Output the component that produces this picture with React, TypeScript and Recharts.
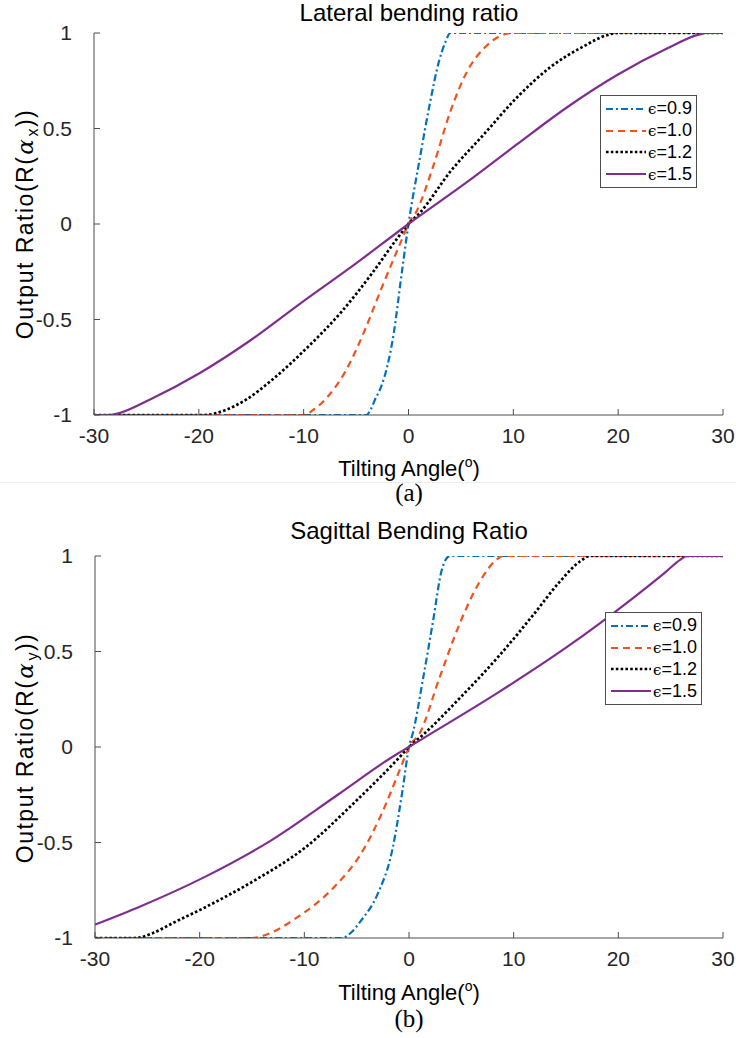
import React from "react";
import { LineChart, Line, XAxis, YAxis, Legend } from "recharts";

const xTicks = [-30, -20, -10, 0, 10, 20, 30];
const yTicks = [-1, -0.5, 0, 0.5, 1];
const epsLabels = ["0.9", "1.0", "1.2", "1.5"];

// (a) lateral bending
const lat09X = [-30, -4.0, -3.6, -3.2, -2.6, -2.0, -1.4, -0.7, 0, 1.1, 2.0, 2.9, 3.5, 4.0, 30];
const lat09Y = [-1, -1, -0.97, -0.92, -0.85, -0.74, -0.57, -0.28, 0, 0.35, 0.62, 0.85, 0.95, 1, 1];
const lat10X = [-30, -10, -9, -7.8, -6, -4.2, -2.6, -0.7, 0, 0.8, 2.4, 4.0, 5.6, 7.2, 8.6, 10, 30];
const lat10Y = [-1, -1, -0.97, -0.91, -0.77, -0.56, -0.34, -0.09, 0, 0.07, 0.31, 0.59, 0.8, 0.92, 0.98, 1, 1];
const lat12X = [-30, -19.5, -17.5, -15.5, -13.1, -9.9, -6.4, -3.5, -1, 0, 1.1, 4, 7.2, 10.3, 13.5, 16.7, 19, 20, 30];
const lat12Y = [-1, -1, -0.975, -0.92, -0.82, -0.66, -0.46, -0.26, -0.07, 0, 0.06, 0.275, 0.47, 0.66, 0.82, 0.93, 0.99, 1, 1];
const lat15X = [-30, -28.5, -27.6, -24.7, -19.9, -15.1, -10.3, -5.1, 0, 5.6, 10.3, 15.1, 19.9, 24.7, 27.6, 28.5, 30];
const lat15Y = [-1, -1, -0.99, -0.92, -0.78, -0.61, -0.415, -0.21, 0, 0.22, 0.415, 0.61, 0.78, 0.92, 0.99, 1, 1];

// (b) sagittal bending
const sag09X = [-30, -6.4, -5.5, -4.6, -3.0, -1.6, -0.6, 0, 0.4, 1.35, 2.3, 3.1, 3.5, 3.9, 30];
const sag09Y = [-1, -1, -0.97, -0.91, -0.77, -0.54, -0.22, 0, 0.08, 0.36, 0.66, 0.92, 0.98, 1, 1];
const sag10X = [-30, -15, -13.5, -10.9, -7.1, -4.6, -2.7, -0.45, 0, 1.0, 2.9, 4.8, 6.75, 8.35, 9, 30];
const sag10Y = [-1, -1, -0.98, -0.9, -0.73, -0.56, -0.36, -0.06, 0, 0.07, 0.36, 0.64, 0.865, 0.98, 1, 1];
const sag12X = [-30, -26.2, -24.5, -22.5, -19.5, -14.8, -10, -5.2, -1.1, 0, 1.35, 4.85, 8.65, 11.85, 14.4, 16.3, 17.3, 30];
const sag12Y = [-1, -1, -0.975, -0.92, -0.84, -0.7, -0.53, -0.29, -0.065, 0, 0.064, 0.256, 0.48, 0.69, 0.865, 0.97, 1, 1];
const sag15X = [-30, -25.9, -19.5, -13.2, -6.8, -1.1, 0, 1.35, 8.65, 15, 21.4, 24.6, 25.9, 26.6, 30];
const sag15Y = [-0.93, -0.84, -0.68, -0.49, -0.25, -0.035, 0, 0.045, 0.29, 0.52, 0.78, 0.92, 0.98, 1, 1];

const styles = [
  { color: "#0072BD", dash: "7 3 2 3", width: 2.2 },
  { color: "#F2521D", dash: "7 5", width: 2.2 },
  { color: "#000000", dash: "2.6 2.2", width: 2.7 },
  { color: "#7E2F8E", dash: undefined, width: 2.2 },
];

const toPts = (xs: number[], ys: number[]) => xs.map((x, i) => ({ x, y: ys[i] }));

const lateral = [toPts(lat09X, lat09Y), toPts(lat10X, lat10Y), toPts(lat12X, lat12Y), toPts(lat15X, lat15Y)];
const sagittal = [toPts(sag09X, sag09Y), toPts(sag10X, sag10Y), toPts(sag12X, sag12Y), toPts(sag15X, sag15Y)];

const FONT = "'Liberation Sans', Arial, Helvetica, sans-serif";
const AXIS = "#4d4d4d";
const TICK_TEXT = { fill: "#262626", fontSize: 21, fontFamily: FONT };

function LegendBox() {
  return (
    <div
      style={{
        border: `1px solid ${AXIS}`,
        background: "#fff",
        padding: "2px 4px 2px 4px",
        fontFamily: FONT,
        fontSize: 18,
        color: "#000",
      }}
    >
      {styles.map((s, i) => (
        <div key={i} style={{ display: "flex", alignItems: "center", height: 21.8 }}>
          <svg width={42} height={10} style={{ marginRight: 1 }}>
            <line x1={1} x2={41} y1={5} y2={5} stroke={s.color} strokeWidth={s.width} strokeDasharray={s.dash} />
          </svg>
          <span>
            <span style={{ fontFamily: "'DejaVu Serif', serif", fontSize: 15 }}>ϵ</span>={epsLabels[i]}
          </span>
        </div>
      ))}
    </div>
  );
}

interface PanelProps {
  top: number;
  data: { x: number; y: number }[][];
  margin: { top: number; right: number; left: number; bottom: number };
  legendLeft: number;
  legendTop: number;
}

function Panel({ top, data, margin, legendLeft, legendTop }: PanelProps) {
  return (
    <div style={{ position: "absolute", left: 0, top }}>
      <LineChart width={736} height={460} margin={margin}>
        <XAxis
          dataKey="x"
          type="number"
          domain={[-30, 30]}
          ticks={xTicks}
          allowDataOverflow
          height={40}
          stroke={AXIS}
          tickSize={-6}
          tickMargin={19}
          tick={TICK_TEXT}
        />
        <XAxis
          xAxisId="top"
          orientation="top"
          dataKey="x"
          type="number"
          domain={[-30, 30]}
          ticks={xTicks}
          allowDataOverflow
          height={0}
          stroke={AXIS}
          tickSize={-6}
          tick={false}
        />
        <YAxis
          type="number"
          domain={[-1, 1]}
          ticks={yTicks}
          allowDataOverflow
          width={60}
          stroke={AXIS}
          tickSize={-6}
          tickMargin={28}
          tick={TICK_TEXT}
        />
        <YAxis
          yAxisId="right"
          orientation="right"
          type="number"
          domain={[-1, 1]}
          ticks={yTicks}
          allowDataOverflow
          width={0}
          stroke={AXIS}
          tickSize={-6}
          tick={false}
        />
        {data.map((pts, i) => (
          <Line
            key={i}
            data={pts}
            dataKey="y"
            type="monotone"
            stroke={styles[i].color}
            strokeWidth={styles[i].width}
            strokeDasharray={styles[i].dash}
            dot={false}
            activeDot={false}
            isAnimationActive={false}
          />
        ))}
        <Legend
          layout="vertical"
          align="center"
          verticalAlign="middle"
          wrapperStyle={{ left: legendLeft, top: legendTop, width: "auto" }}
          content={() => <LegendBox />}
        />
      </LineChart>
    </div>
  );
}

interface TextsProps {
  top: number;
  titleY: number;
  title: string;
  sub: string;
  caption: string;
  captionY: number;
}

function Texts({ top, titleY, title, sub, caption, captionY }: TextsProps) {
  const base: React.CSSProperties = {
    position: "absolute",
    fontFamily: FONT,
    color: "#000",
    whiteSpace: "nowrap",
    transform: "translate(-50%, -50%)",
  };
  return (
    <>
      <div style={{ ...base, left: 409, top: titleY, fontSize: 24 }}>{title}</div>
      <div
        style={{
          ...base,
          left: 27,
          top: top + 224,
          fontSize: 23,
          letterSpacing: 1.5,
          transform: "translate(-50%, -50%) rotate(-90deg)",
        }}
      >
        Output Ratio(R(
        <span style={{ fontFamily: "'DejaVu Serif', serif", fontStyle: "italic", margin: "0 1px" }}>α</span>
        <sub style={{ fontSize: 16 }}>{sub}</sub>))
      </div>
      <div style={{ ...base, left: 409, top: top + 468, fontSize: 22 }}>
        Tilting Angle(<sup style={{ fontSize: 14 }}>o</sup>)
      </div>
      <div
        style={{
          ...base,
          left: 409,
          top: captionY,
          fontSize: 25,
          fontFamily: "'Liberation Serif', 'Times New Roman', serif",
        }}
      >
        {caption}
      </div>
    </>
  );
}

export default function App() {
  return (
    <div style={{ position: "absolute", left: 0, top: 0, width: 736, height: 1038, background: "#fff", overflow: "hidden" }}>
      <Panel
        top={0}
        data={lateral}
        margin={{ top: 33, right: 13, left: 34, bottom: 5 }}
        legendLeft={600}
        legendTop={95}
      />
      <Texts top={0} titleY={13} title="Lateral bending ratio" sub="x" caption="(a)" captionY={493} />
      <div style={{ position: "absolute", left: 0, top: 482, width: 736, height: 1, background: "#ececec" }} />
      <Panel
        top={520}
        data={sagittal}
        margin={{ top: 36, right: 13, left: 35, bottom: 2 }}
        legendLeft={605}
        legendTop={92}
      />
      <Texts top={524} titleY={531} title="Sagittal Bending Ratio" sub="y" caption="(b)" captionY={1019} />
    </div>
  );
}
